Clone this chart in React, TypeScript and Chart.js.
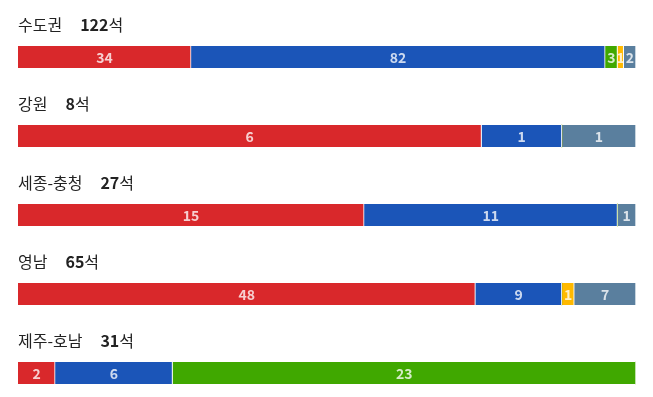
import React, { useEffect, useRef } from "react";
import { Chart, registerables } from "chart.js";

Chart.register(...registerables);

const regions = ["수도권", "강원", "세종-충청", "영남", "제주-호남"];
const partyColors = ["#d9282b", "#1b55b8", "#40a800", "#ffb900", "#5a7f9e"];
// seats per party (labels)
const red = [34, 6, 15, 48, 2];
const blue = [82, 1, 11, 9, 6];
const green = [3, 0, 0, 0, 23];
const yellow = [1, 0, 0, 1, 0];
const gray = [2, 1, 1, 7, 0];
// share of bar width in percent
const redPct = [28, 75, 56, 74, 6];
const bluePct = [67, 13, 41, 14, 19];
const greenPct = [2, 0, 0, 0, 75];
const yellowPct = [1, 0, 0, 2, 0];
const grayPct = [2, 12, 3, 10, 0];

const seriesValues = [red, blue, green, yellow, gray];
const seriesPct = [redPct, bluePct, greenPct, yellowPct, grayPct];
const totals = regions.map((_, i) => seriesValues.reduce((s, arr) => s + arr[i], 0));

const FONT = '"Noto Sans CJK KR", "Noto Sans", sans-serif';

export default function App() {
  const ref = useRef<HTMLCanvasElement | null>(null);
  useEffect(() => {
    if (!ref.current) return;
    const titlePlugin = {
      id: "titles",
      afterDraw(chart: any) {
        const ctx = chart.ctx;
        const ys = chart.scales.y;
        const left = chart.chartArea.left;
        ctx.save();
        ctx.textBaseline = "middle";
        ctx.textAlign = "left";
        regions.forEach((name, i) => {
          const y = ys.getPixelForValue(i) - 32;
          ctx.fillStyle = "#222";
          ctx.font = `400 16px ${FONT}`;
          ctx.fillText(name, left, y);
          let x = left + ctx.measureText(name).width + 18;
          ctx.font = `700 16px ${FONT}`;
          const n = String(totals[i]);
          ctx.fillText(n, x, y);
          x += ctx.measureText(n).width;
          ctx.font = `400 16px ${FONT}`;
          ctx.fillText("석", x, y);
        });
        ctx.restore();
      },
    };
    const labelPlugin = {
      id: "seglabels",
      afterDatasetsDraw(chart: any) {
        const ctx = chart.ctx;
        ctx.save();
        ctx.textAlign = "center";
        ctx.textBaseline = "middle";
        ctx.font = `700 14px ${FONT}`;
        ctx.fillStyle = "rgba(255,255,255,0.78)";
        chart.data.datasets.forEach((ds: any, di: number) => {
          const meta = chart.getDatasetMeta(di);
          meta.data.forEach((el: any, i: number) => {
            const v = seriesValues[di][i];
            if (!v) return;
            const cx = (el.x + el.base) / 2;
            ctx.fillText(String(v), cx, el.y + 1);
          });
        });
        ctx.restore();
      },
    };
    const chart = new Chart(ref.current, {
      type: "bar",
      data: {
        datasets: seriesPct.map((arr, di) => ({
          label: String(di),
          data: arr.map((v, i) => ({ x: v, y: i })),
          backgroundColor: partyColors[di],
          borderColor: "#ffffff",
          borderWidth: { left: 0, right: 1, top: 0, bottom: 0 },
          borderSkipped: false,
          barThickness: 22,
        })),
      },
      options: {
        indexAxis: "y",
        animation: false,
        responsive: false,
        maintainAspectRatio: false,
        devicePixelRatio: 1,
        layout: { padding: { left: 18, right: 17, top: 0, bottom: 0 } },
        plugins: { legend: { display: false }, tooltip: { enabled: false } },
        scales: {
          x: { type: "linear", stacked: true, min: 0, max: 100, display: false },
          y: { type: "linear", stacked: true, min: -0.7215, max: 4.3038, reverse: true, offset: false, display: false },
        },
      },
      plugins: [titlePlugin, labelPlugin],
    } as any);
    return () => chart.destroy();
  }, []);
  return (
    <div style={{ position: "fixed", left: 0, top: 0, width: 653, height: 397, background: "#fff" }}>
      <canvas ref={ref} width={653} height={397} />
    </div>
  );
}
